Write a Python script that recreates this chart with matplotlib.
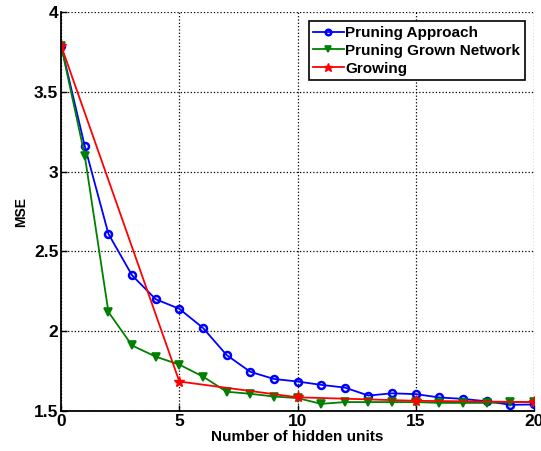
import matplotlib.pyplot as plt

plt.rcParams['font.family'] = ['Liberation Sans', 'DejaVu Sans']
plt.rcParams['font.weight'] = 'bold'

# MSE versus number of hidden units
units = list(range(21))
pruning = [3.79, 3.16, 2.61, 2.35, 2.20, 2.14, 2.02, 1.85, 1.745, 1.70, 1.684,
           1.663, 1.646, 1.596, 1.61, 1.605, 1.584, 1.575, 1.56, 1.538, 1.54]
pruning_grown = [3.79, 3.10, 2.12, 1.91, 1.84, 1.79, 1.715, 1.62, 1.607, 1.59, 1.58,
                 1.544, 1.555, 1.555, 1.555, 1.555, 1.55, 1.55, 1.55, 1.555, 1.555]
grow_units = [0, 5, 10, 15, 20]
growing = [3.79, 1.684, 1.585, 1.563, 1.555]

fig = plt.figure(figsize=(5.41, 4.51), dpi=100)
ax = fig.add_axes([0.113, 0.089, 0.874, 0.884])

ax.plot(units, pruning, '-o', color='blue', lw=1.3, ms=5, mfc='none', mew=1.8,
        label='Pruning Approach')
ax.plot(units, pruning_grown, '-v', color='green', lw=1.3, ms=6, mew=1.2,
        label='Pruning Grown Network')
ax.plot(grow_units, growing, '-*', color='red', lw=1.3, ms=8,
        label='Growing')

ax.set_xlim(0, 20)
ax.set_ylim(1.5, 4)
ax.set_xticks([0, 5, 10, 15, 20])
ax.set_yticks([1.5, 2, 2.5, 3, 3.5, 4])
ax.set_yticklabels(['1.5', '2', '2.5', '3', '3.5', '4'])
ax.grid(True, color='black', linestyle=':', linewidth=0.9)
ax.spines['top'].set_visible(False)
ax.spines['right'].set_visible(False)
ax.spines['left'].set_linewidth(1.3)
ax.spines['bottom'].set_linewidth(1.3)
ax.tick_params(direction='in', labelsize=12.5, width=1, length=4, pad=2)

ax.set_xlabel('Number of hidden units', fontsize=11, fontweight='bold', labelpad=1)
ax.set_ylabel('MSE', fontsize=10, fontweight='bold', labelpad=4)

leg = ax.legend(loc='upper right', fontsize=11, fancybox=False, framealpha=1,
                edgecolor='black', borderpad=0.3, labelspacing=0.25,
                handlelength=2.0, handletextpad=0.1, borderaxespad=0.6,
                markerscale=0.8)
leg.get_frame().set_linewidth(1.2)

fig.savefig('out.png', dpi=100)
